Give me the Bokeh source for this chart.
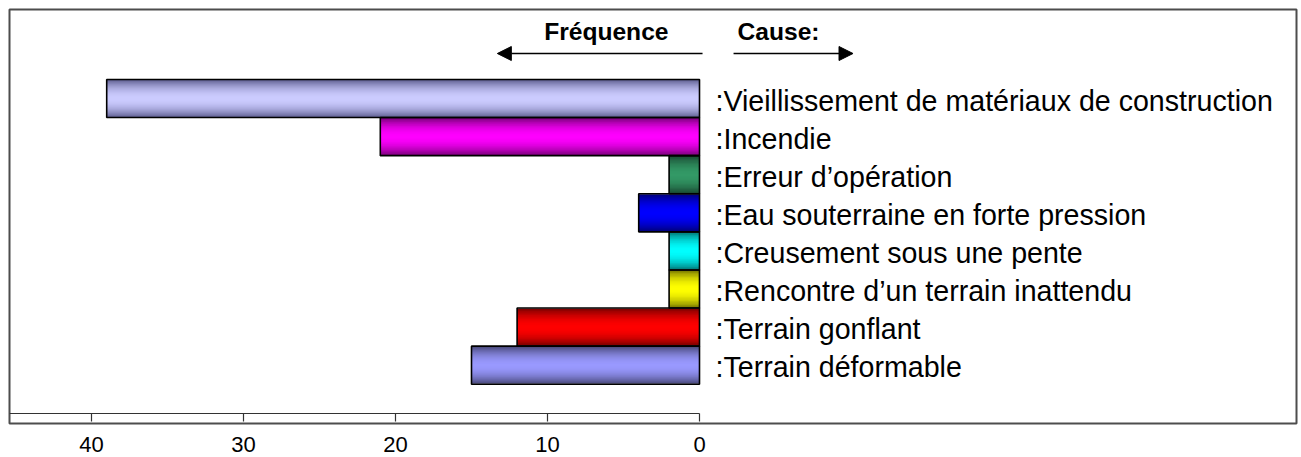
from bokeh.plotting import figure
from bokeh.models import Range1d, FixedTicker, Arrow, NormalHead, Label, ColumnDataSource
from bokeh.core.properties import value
from bokeh.embed import file_html
from bokeh.resources import INLINE

# ---------------- data ----------------
causes = [
    ":Vieillissement de matériaux de construction",
    ":Incendie",
    ":Erreur d\u2019opération",
    ":Eau souterraine en forte pression",
    ":Creusement sous une pente",
    ":Rencontre d\u2019un terrain inattendu",
    ":Terrain gonflant",
    ":Terrain déformable",
]
frequence = [39, 21, 2, 4, 2, 2, 12, 15]
tick_values = [0, 10, 20, 30, 40]
title_left = "Fréquence"
title_right = "Cause:"

# style: (edge colour, centre colour) of each bar's shaded gradient
edge_colors = ["#666699", "#800080", "#1a4d33", "#000080", "#008080", "#808000", "#800000", "#4d4d80"]
center_colors = ["#ccccff", "#ff00ff", "#339966", "#0000ff", "#00ffff", "#ffff00", "#ff0000", "#9999ff"]

FONT = "Liberation Sans"

# ---------------- figure ----------------
PX_PER_UNIT = 15.2
ROW = 38.1
frame_w, frame_h = 1287, 414
zero_px = 690          # x of value 0 from frame left
row0_px = 89           # centre of first row from frame top

x_range = Range1d(zero_px / PX_PER_UNIT, -(frame_w - zero_px) / PX_PER_UNIT)
y_range = Range1d((frame_h - row0_px) / ROW, -row0_px / ROW)

p = figure(frame_width=frame_w, height=457, x_range=x_range, y_range=y_range,
           output_backend="svg", toolbar_location=None,
           min_border_left=9, min_border_top=9, min_border_right=5, min_border_bottom=34)
p.yaxis.visible = False
p.xgrid.visible = False
p.ygrid.visible = False
p.outline_line_color = "#4d4d4d"
p.outline_line_width = 2
p.background_fill_color = "white"
p.border_fill_color = "white"

ax = p.xaxis[0]
ax.ticker = FixedTicker(ticks=tick_values)
ax.axis_line_color = None
ax.major_tick_line_color = None
ax.minor_tick_line_color = None
ax.major_tick_out = 0
ax.major_tick_in = 0
ax.major_label_standoff = 13
ax.major_label_text_font = FONT
ax.major_label_text_font_size = "22px"
ax.major_label_text_color = "black"

# ---------------- bars with shaded gradient ----------------
def hex2rgb(h):
    h = h.lstrip("#")
    return tuple(int(h[i:i + 2], 16) for i in (0, 2, 4))

def mix(c0, c1, t):
    a, b = hex2rgb(c0), hex2rgb(c1)
    return "#%02x%02x%02x" % tuple(int(round(a[i] + (b[i] - a[i]) * t)) for i in range(3))

ys = list(range(len(causes)))
N = 14
for k in range(N):
    d = 1 - k / N
    cols = [mix(c, e, d ** 2.0) for c, e in zip(center_colors, edge_colors)]
    src = ColumnDataSource(dict(y=ys, f=frequence, c=cols))
    p.hbar(y="y", left="f", right=0, height=d * 0.98, fill_color="c", line_color=None, source=src)

src = ColumnDataSource(dict(y=ys, f=frequence, t=causes))
p.hbar(y="y", left="f", right=0, height=1.0, fill_color=None, line_color="black", line_width=1.6, source=src)

# category labels
p.text(x=0, y="y", text="t", source=src, x_offset=16, y_offset=2,
       text_font=value(FONT), text_font_size=value("28.6px"), text_color="black",
       text_align="left", text_baseline="middle")

# ---------------- inner axis line with ticks ----------------
axis_y = (frame_h - 10 - row0_px) / ROW
tick_len = 8 / ROW
p.segment(x0=[x_range.start], y0=[axis_y], x1=[0], y1=[axis_y], line_color="#333333", line_width=1.2)
p.segment(x0=tick_values, y0=[axis_y] * len(tick_values), x1=tick_values,
          y1=[axis_y + tick_len] * len(tick_values), line_color="#333333", line_width=1.2)

# ---------------- headers and arrows ----------------
head_y = -(row0_px - 22) / ROW
arrow_y = -(row0_px - 44) / ROW
p.add_layout(Label(x=0, y=head_y, text=title_left, x_offset=-31, text_align="right", text_baseline="middle",
                   text_font=FONT, text_font_size="24.6px", text_font_style="bold", text_color="black"))
p.add_layout(Label(x=0, y=head_y, text=title_right, x_offset=38, text_align="left", text_baseline="middle",
                   text_font=FONT, text_font_size="24.6px", text_font_style="bold", text_color="black"))
p.add_layout(Arrow(x_start=-0.2, y_start=arrow_y, x_end=13.3, y_end=arrow_y, line_width=1.5, line_color="black",
                   end=NormalHead(size=14, fill_color="black", line_color="black")))
p.add_layout(Arrow(x_start=-2.24, y_start=arrow_y, x_end=-10.1, y_end=arrow_y, line_width=1.5, line_color="black",
                   end=NormalHead(size=14, fill_color="black", line_color="black")))

open("out.html", "w").write(file_html(p, INLINE))
